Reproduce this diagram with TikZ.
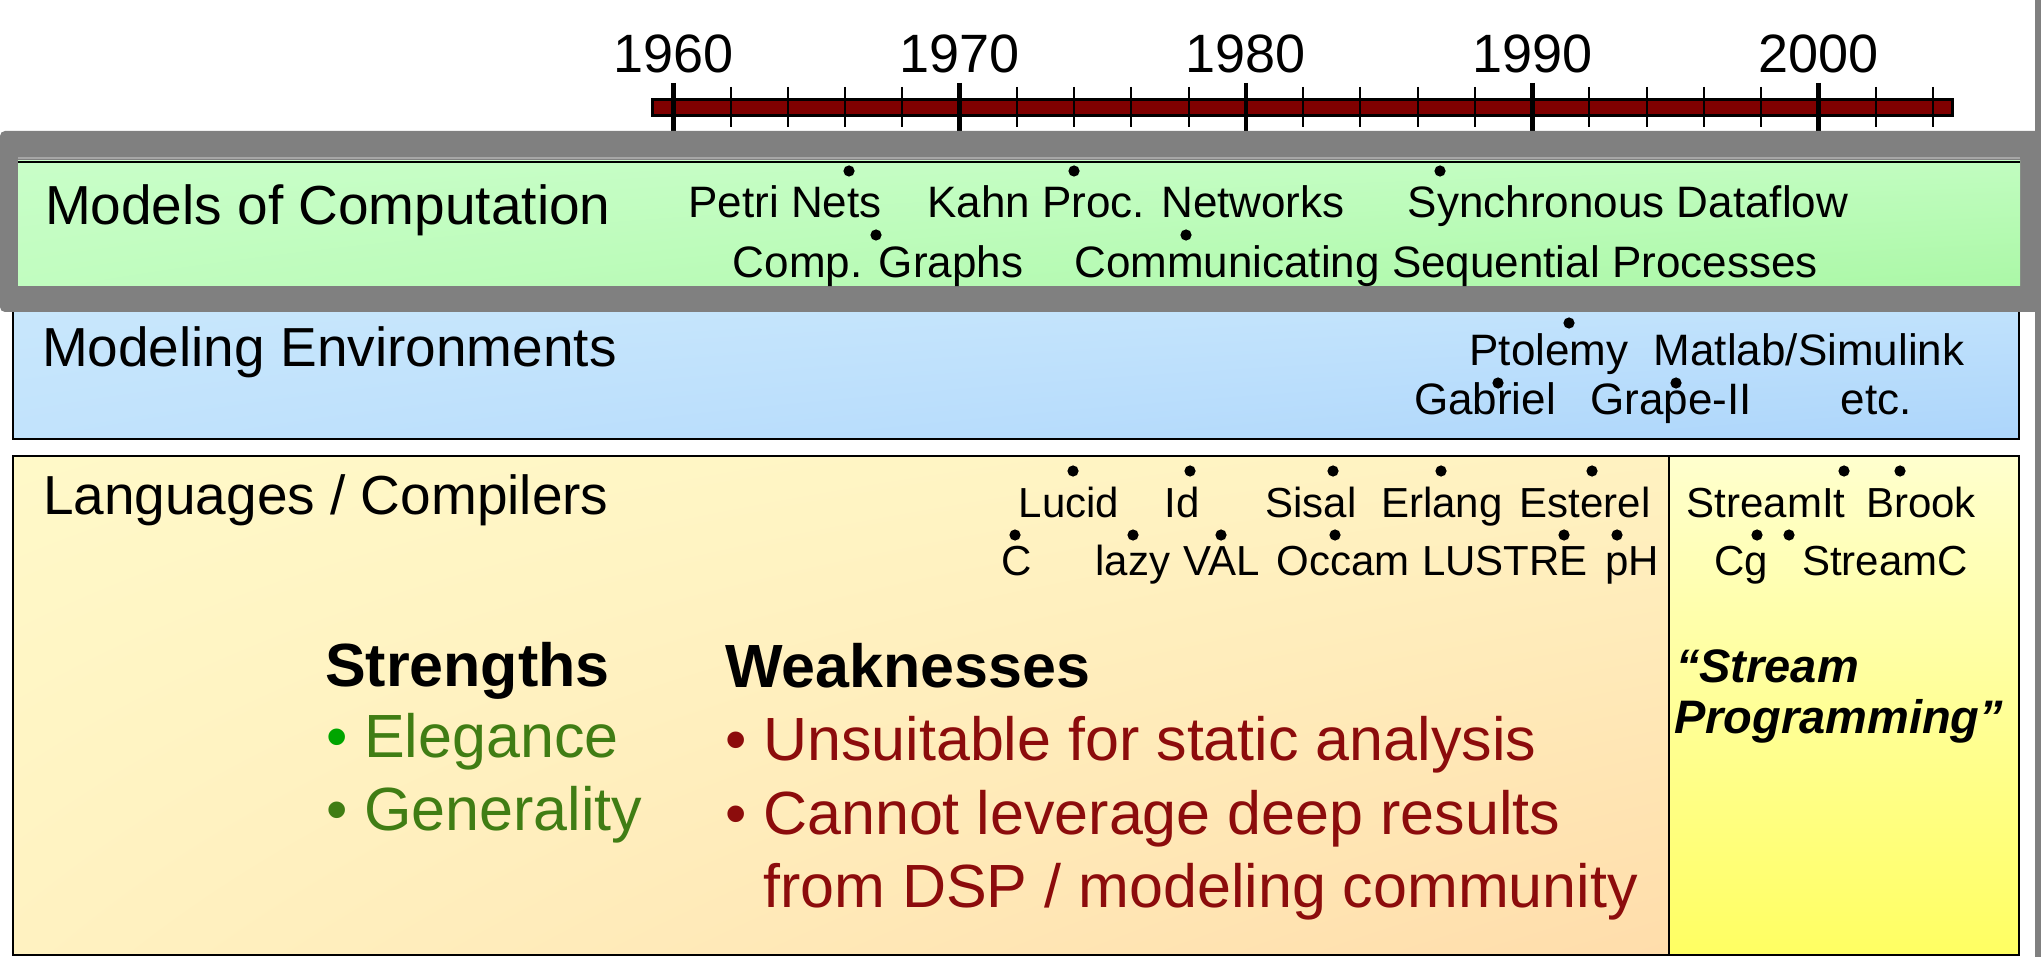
\documentclass[tikz,border=0pt]{standalone}
\usepackage{fontspec}
\setmainfont{Liberation Sans}

\definecolor{barred}{RGB}{128,0,0}
\definecolor{framegray}{RGB}{128,128,128}
\definecolor{okgreen}{RGB}{64,125,20}
\definecolor{dotgreen}{RGB}{0,165,0}
\definecolor{badred}{RGB}{140,12,12}
\definecolor{streamtop}{RGB}{255,255,206}
\definecolor{streambot}{RGB}{255,255,98}

% Two-dimensional gradients: pale at the left and top, saturated towards the
% lower right corner.  t = (x/100)*(1-y/100); colour = light + t*(sat-light).
\pgfdeclarefunctionalshading{greenbox}{\pgfpointorigin}{\pgfpoint{100bp}{100bp}}{}{
  100 div 1 exch sub exch 100 div mul
  dup dup -0.23 mul 0.80 add 3 1 roll
  -0.05 mul 1.0 add exch
  -0.26 mul 0.80 add }
\pgfdeclarefunctionalshading{bluebox}{\pgfpointorigin}{\pgfpoint{100bp}{100bp}}{}{
  100 div 1 exch sub exch 100 div mul
  dup dup -0.22 mul 0.80 add 3 1 roll
  -0.14 mul 0.915 add exch
  -0.01 mul 0.99 add }
\pgfdeclarefunctionalshading{langbox}{\pgfpointorigin}{\pgfpoint{100bp}{100bp}}{}{
  100 div 1 exch sub exch 100 div mul
  dup dup 0.0 mul 1.0 add 3 1 roll
  -0.22 mul 0.99 add exch
  -0.23 mul 0.80 add }

\tikzset{
  yearlbl/.style={font=\fontsize{27}{30}\selectfont, inner sep=0pt, outer sep=0pt, anchor=base},
  rowtitle/.style={font=\fontsize{27.5}{30}\selectfont, inner sep=0pt, outer sep=0pt, anchor=base west},
  item/.style={font=\fontsize{22}{26}\selectfont, inner sep=0pt, outer sep=0pt, anchor=base},
  langitem/.style={font=\fontsize{21}{25}\selectfont, inner sep=0pt, outer sep=0pt, anchor=base},
  yeardot/.style={circle, fill=black, draw=none, inner sep=0pt, minimum size=5.6pt},
  listhead/.style={font=\fontsize{30.5}{34}\bfseries\selectfont, inner sep=0pt, outer sep=0pt, anchor=base west},
  goodline/.style={font=\fontsize{30.5}{34}\selectfont, text=okgreen, inner sep=0pt, outer sep=0pt, anchor=base west},
  badline/.style={font=\fontsize{30.5}{34}\selectfont, text=badred, inner sep=0pt, outer sep=0pt, anchor=base west},
  slogan/.style={font=\fontsize{23.5}{26}\bfseries\itshape\selectfont, inner sep=0pt, outer sep=0pt, anchor=base west},
  minortick/.style={line width=1pt, black},
  majortick/.style={line width=2.4pt, black},
  boxframe/.style={draw=black, line width=1.2pt}
}

\begin{document}
\begin{tikzpicture}[x=0.5pt, y=-0.5pt]
\useasboundingbox (0,0) rectangle (2041,957);
\fill[white] (0,0) rectangle (2041,957);

% ---- time line -------------------------------------------------------
\draw[fill=barred, line width=1.5pt] (652,100) rectangle (1952,116);
\foreach \yr in {1962,1964,...,2004}
  \draw[minortick] ({673.5+28.62*(\yr-1960)},87) -- ({673.5+28.62*(\yr-1960)},127);
\foreach \yr in {1960,1970,...,2000}{
  \draw[majortick] ({673.5+28.62*(\yr-1960)},83) -- ({673.5+28.62*(\yr-1960)},135);
  \node[yearlbl] (y\yr) at ({673.5+28.62*(\yr-1960)},73) {\yr};
}

% ---- modeling environments --------------------------------------------
\shade[shading=bluebox] (13,300) rectangle (2019,439);
\draw[boxframe] (13,300) rectangle (2019,439);

% ---- languages / compilers --------------------------------------------
\shade[shading=langbox] (13,456) rectangle (1669,955);
\shade[top color=streamtop, bottom color=streambot] (1669,456) rectangle (2019,955);
\draw[boxframe] (13,456) rectangle (2019,955);
\draw[line width=1pt] (1669,456) -- (1669,955);

% ---- highlighted models of computation ---------------------------------
\fill[framegray] (2035,0) rectangle (2041,957);
\fill[framegray, rounded corners=2.5pt] (0,131) rectangle (2041,312);
\shade[shading=greenbox] (18,161) rectangle (2020,286);
\draw[line width=1pt, black!35] (18,158) -- (2020,158);
\draw[line width=1.2pt] (18,162) -- (2020,162);

% ---- row titles --------------------------------------------------------
\node[rowtitle] (moc) at (45,225) {Models of Computation};
\node[rowtitle] (menv) at (42,366) {Modeling Environments};
\node[rowtitle] (lang) at (43,514) {Languages / Compilers};

% ---- models of computation ---------------------------------------------
\node[item] (petri) at (785,218) {Petri Nets};
\node[item] (kahn) at (1136,218) {Kahn Proc. Networks};
\node[item] (sdf) at (1628,218) {Synchronous Dataflow};
\node[item] (compg) at (878,278) {Comp. Graphs};
\node[item] (csp) at (1446,278) {Communicating Sequential Processes};
\node[yeardot] (d-petri) at (849,171) {};
\node[yeardot] (d-kahn) at (1074,171) {};
\node[yeardot] (d-sdf) at (1440,171) {};
\node[yeardot] (d-compg) at (876,235) {};
\node[yeardot] (d-csp) at (1186,235) {};

% ---- modeling environments ---------------------------------------------
\node[item] (ptolemy) at (1549,365) {Ptolemy};
\node[item] (matlab) at (1809,365) {Matlab/Simulink};
\node[item] (gabriel) at (1485,415) {Gabriel};
\node[item] (grape) at (1671,415) {Grape-II};
\node[item] (etc) at (1876,415) {etc.};
\node[yeardot] (d-ptolemy) at (1569,323) {};
\node[yeardot] (d-gabriel) at (1498,383) {};
\node[yeardot] (d-grape) at (1676,383) {};

% ---- languages -----------------------------------------------------------
\node[langitem] (lucid) at (1069,517) {Lucid};
\node[langitem] (id) at (1182,517) {Id};
\node[langitem] (sisal) at (1311,517) {Sisal};
\node[langitem] (erlang) at (1442,517) {Erlang};
\node[langitem] (esterel) at (1585,517) {Esterel};
\node[langitem] (streamit) at (1766,517) {StreamIt};
\node[langitem] (brook) at (1921,517) {Brook};
\node[langitem] (c) at (1017,575) {C};
\node[langitem] (lazy) at (1133,575) {lazy};
\node[langitem] (val) at (1222,575) {VAL};
\node[langitem] (occam) at (1343,575) {Occam};
\node[langitem] (lustre) at (1505,575) {LUSTRE};
\node[langitem] (ph) at (1632,575) {pH};
\node[langitem] (cg) at (1741,575) {Cg};
\node[langitem] (streamc) at (1885,575) {StreamC};
\foreach \nm/\xx in {lucid/1073, id/1190, sisal/1333, erlang/1441, esterel/1592, streamit/1844, brook/1900}
  \node[yeardot] (d-\nm) at (\xx,471) {};
\foreach \nm/\xx in {c/1015, lazy/1133, val/1221, occam/1335, lustre/1564, ph/1617, cg/1757, streamc/1789}
  \node[yeardot] (d-\nm) at (\xx,535) {};

% ---- strengths and weaknesses --------------------------------------------
\node[listhead] (strengths) at (325,686) {Strengths};
\node[goodline] (elegance) at (326,757) {{\color{dotgreen}•} Elegance};
\node[goodline] (generality) at (326,830) {• Generality};
\node[listhead] (weaknesses) at (725,687) {Weaknesses};
\node[badline] (unsuit) at (725,760) {• Unsuitable for static analysis};
\node[badline] (leverage) at (725,834) {• Cannot leverage deep results};
\node[badline] (dsp) at (725,907) {\phantom{• }from DSP / modeling community};

% ---- stream programming ----------------------------------------------------
\node[slogan] (stream) at (1676,682) {“Stream};
\node[slogan] (programming) at (1674,733) {Programming”};
\end{tikzpicture}
\end{document}
